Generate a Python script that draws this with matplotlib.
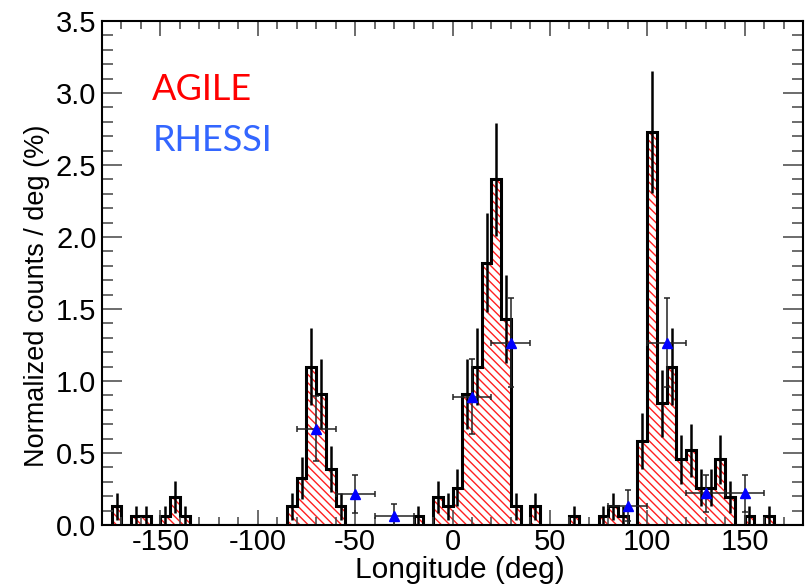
import numpy as np
import matplotlib
matplotlib.use('Agg')
import matplotlib.pyplot as plt
from matplotlib.ticker import MultipleLocator, FormatStrFormatter

plt.rcParams['font.family'] = ['Liberation Sans', 'DejaVu Sans']
plt.rcParams['axes.unicode_minus'] = False
plt.rcParams['hatch.linewidth'] = 1.0

# AGILE 히스토그램 (5 deg bins, -180 ~ 180)
bin_edges = np.arange(-180, 181, 5)
agile_vals = [
    0, 0.13, 0, 0.065, 0.065, 0, 0.065, 0.195, 0.065, 0, 0, 0,        # -180 .. -125
    0, 0, 0, 0, 0, 0, 0, 0.13, 0.325, 1.10, 0.91, 0.39,               # -120 .. -65
    0.13, 0, 0, 0, 0, 0, 0, 0, 0.065, 0, 0.195, 0.13,                 # -60 .. -5
    0.26, 0.91, 1.10, 1.82, 2.40, 1.43, 0.13, 0, 0.13, 0, 0, 0,       # 0 .. 55
    0.065, 0, 0, 0.065, 0.13, 0.065, 0, 0.585, 2.73, 0.845, 1.10, 0.455,  # 60 .. 115
    0.52, 0.26, 0.26, 0.455, 0.195, 0, 0.065, 0, 0.065, 0, 0, 0,      # 120 .. 175
]
agile_errs = [
    0, 0.092, 0, 0.065, 0.065, 0, 0.065, 0.112, 0.065, 0, 0, 0,
    0, 0, 0, 0, 0, 0, 0, 0.092, 0.145, 0.268, 0.243, 0.159,
    0.092, 0, 0, 0, 0, 0, 0, 0, 0.065, 0, 0.112, 0.092,
    0.13, 0.243, 0.268, 0.344, 0.395, 0.305, 0.092, 0, 0.092, 0, 0, 0,
    0.065, 0, 0, 0.065, 0.092, 0.065, 0, 0.195, 0.421, 0.234, 0.268, 0.172,
    0.184, 0.13, 0.13, 0.172, 0.112, 0, 0.065, 0, 0.065, 0, 0, 0,
]

# RHESSI 데이터 (20 deg bins)
rhessi_lon = [-70, -50, -30, 10, 30, 90, 110, 130, 150]
rhessi_val = [0.67, 0.215, 0.063, 0.89, 1.265, 0.135, 1.265, 0.22, 0.22]
rhessi_yerr = [0.225, 0.13, 0.08, 0.26, 0.31, 0.11, 0.31, 0.13, 0.13]
rhessi_xerr = [10, 10, 10, 10, 10, 10, 10, 10, 10]

fig = plt.figure(figsize=(8.06, 5.85), dpi=100)
ax = fig.add_axes([102 / 806, 1 - 525 / 585, 701 / 806, 504 / 585])

# 빗금 채우기 + 외곽선
ax.stairs(agile_vals, bin_edges, fill=True, facecolor='none', edgecolor='#ff2020',
          hatch='\\\\\\\\', linewidth=0)
ax.stairs(agile_vals, bin_edges, color='black', linewidth=2.2)

centers = (bin_edges[:-1] + bin_edges[1:]) / 2
vals = np.array(agile_vals)
errs = np.array(agile_errs)
mask = vals > 0
ax.errorbar(centers[mask], vals[mask], yerr=errs[mask], fmt='none', ecolor='black',
            elinewidth=1.8, capsize=0)

ax.errorbar(rhessi_lon, rhessi_val, xerr=rhessi_xerr, yerr=rhessi_yerr, fmt='^',
            color='blue', markersize=7, ecolor='#222222', elinewidth=1.1,
            capsize=2.5, capthick=1.1, zorder=5)

ax.set_xlim(-180, 180)
ax.set_ylim(0, 3.5)
ax.xaxis.set_major_locator(MultipleLocator(50))
ax.xaxis.set_minor_locator(MultipleLocator(10))
ax.yaxis.set_major_locator(MultipleLocator(0.5))
ax.yaxis.set_minor_locator(MultipleLocator(0.1))
ax.yaxis.set_major_formatter(FormatStrFormatter('%.1f'))

ax.tick_params(which='both', direction='in', top=True, right=True,
               color='#444444', width=1.1, labelsize=21)
ax.tick_params(axis='x', which='major', length=10.8, pad=2)
ax.tick_params(axis='x', which='minor', length=5.8)
ax.tick_params(axis='y', which='major', length=14.4, pad=4)
ax.tick_params(axis='y', which='minor', length=7.9)
for sp in ax.spines.values():
    sp.set_linewidth(1.5)

ax.set_xlabel('Longitude (deg)', fontsize=21.5)
ax.xaxis.set_label_coords(0.51, -0.117)
ax.xaxis.label.set_va('bottom')
ax.set_ylabel('Normalized counts / deg (%)', fontsize=19.5)
ax.yaxis.set_label_coords(-0.093, 0.455)
ax.yaxis.label.set_va('center')

fig.text(152 / 806, 1 - 100 / 585, 'AGILE', color='red', fontsize=26,
         family='Lato', va='baseline')
fig.text(153 / 806, 1 - 151 / 585, 'RHESSI', color='#3366ff', fontsize=26,
         family='Lato', va='baseline')

fig.savefig('out.png', dpi=100)
